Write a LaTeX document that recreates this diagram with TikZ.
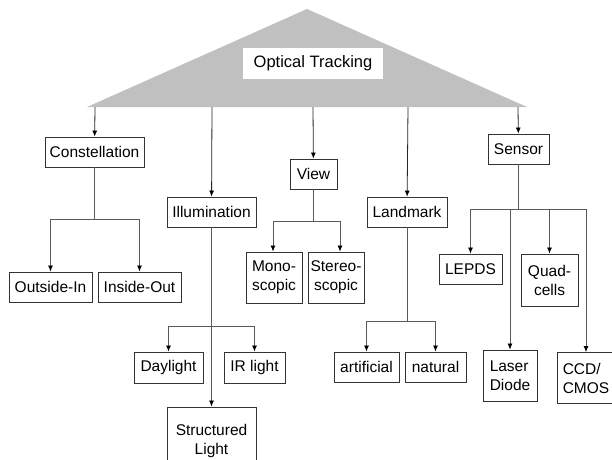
\documentclass[tikz,border=0pt]{standalone}
\usepackage{fontspec}
\setmainfont{Liberation Sans}
\usetikzlibrary{arrows.meta}
\definecolor{trigray}{HTML}{C0C0C0}
\definecolor{boxline}{HTML}{333333}
\definecolor{subline}{HTML}{5A5A5A}
\begin{document}
\begin{tikzpicture}[x=1pt,y=-1pt,
  box/.style={draw=boxline,line width=0.9pt,rectangle,inner sep=0pt,
    font=\fontsize{15.5}{19}\selectfont,align=center},
  mainconn/.style={draw=black!85,line width=0.8pt,-{Latex[length=6pt,width=5pt,black]}},
  subconn/.style={draw=subline,line width=0.8pt,-{Latex[length=6pt,width=5pt,black]}},
  subline/.style={draw=subline,line width=0.8pt}]
\clip (0,0) rectangle (612,459);
\fill[white] (0,0) rectangle (612,459);
% triangle
\fill[trigray] (307,9) -- (527,107) -- (87,107) -- cycle;
\node[fill=white,inner sep=0pt,minimum width=140pt,minimum height=31pt,
  font=\fontsize{16.5}{20}\selectfont] (ot) at (313,63) {Optical Tracking};
% base coordinates
\coordinate (b1) at (95,107);
\coordinate (b2) at (212,107);
\coordinate (b3) at (313,107);
\coordinate (b4) at (408,107);
\coordinate (b5) at (518,107);
% level 1 boxes
\node[box,minimum width=99pt,minimum height=30pt] (con) at (94.5,152) {Constellation};
\node[box,minimum width=89pt,minimum height=30pt] (ill) at (211.5,212) {Illumination};
\node[box,minimum width=47pt,minimum height=30pt] (view) at (313.5,174) {View};
\node[box,minimum width=80pt,minimum height=30pt] (lm) at (407,212) {Landmark};
\node[box,minimum width=61pt,minimum height=30pt] (sen) at (518.5,149) {Sensor};
% level 2 boxes
\node[box,minimum width=83pt,minimum height=30pt] (oi) at (50.5,287) {Outside-In};
\node[box,minimum width=83pt,minimum height=30pt] (io) at (139.5,287) {Inside-Out};
\node[box,minimum width=69pt,minimum height=31pt] (day) at (168.5,367.5) {Daylight};
\node[box,minimum width=61pt,minimum height=31pt] (ir) at (254.5,367.5) {IR light};
\node[box,minimum width=89pt,minimum height=68pt] (sl) at (211.5,441) {Structured\\Light};
\node[box,minimum width=56pt,minimum height=51pt] (mono) at (274,277.5) {Mono-\\scopic};
\node[box,minimum width=56pt,minimum height=51pt] (stereo) at (336,277.5) {Stereo-\\scopic};
\node[box,minimum width=65pt,minimum height=30pt] (art) at (366.5,367) {artificial};
\node[box,minimum width=61pt,minimum height=30pt] (nat) at (435.5,367) {natural};
\node[box,minimum width=63pt,minimum height=30pt] (lep) at (470.5,269) {LEPDS};
\node[box,minimum width=57pt,minimum height=52pt] (qc) at (549.5,280) {Quad-\\cells};
\node[box,minimum width=54pt,minimum height=51pt,align=left] (ld) at (510,375.5) {Laser\\Diode};
\node[box,minimum width=58pt,minimum height=51pt,align=left] (ccd) at (586,378) {CCD/\\CMOS};
% main connectors
\draw[mainconn] (b1) -- (con);
\draw[mainconn] (b2) -- (ill);
\draw[mainconn] (b3) -- (view);
\draw[mainconn] (b4) -- (lm);
\draw[mainconn] (b5) -- (sen);
% junctions
\coordinate (cj) at (94.5,219);
\coordinate (ij) at (211.5,326);
\coordinate (vj) at (313.5,221);
\coordinate (lj) at (407,321);
\coordinate (sj) at (518.5,209);
% constellation
\draw[subline] (con) -- (cj);
\draw[subconn] (cj) -| (oi);
\draw[subconn] (cj) -| (io);
% illumination
\draw[subconn] (ill) -- (sl);
\draw[subconn] (ij) -| (day);
\draw[subconn] (ij) -| (ir);
% view
\draw[subline] (view) -- (vj);
\draw[subconn] (vj) -| ([xshift=-1pt]mono.north);
\draw[subconn] (vj) -| ([xshift=4pt]stereo.north);
% landmark
\draw[subline] (lm) -- (lj);
\draw[subconn] (lj) -| (art);
\draw[subconn] (lj) -| (nat);
% sensor
\draw[subline] (sen) -- (sj);
\draw[subconn] (sj) -| (lep);
\draw[subconn] (sj) -| (ld);
\draw[subconn] (sj) -| (qc);
\draw[subconn] (sj) -| (ccd);
\end{tikzpicture}
\end{document}
